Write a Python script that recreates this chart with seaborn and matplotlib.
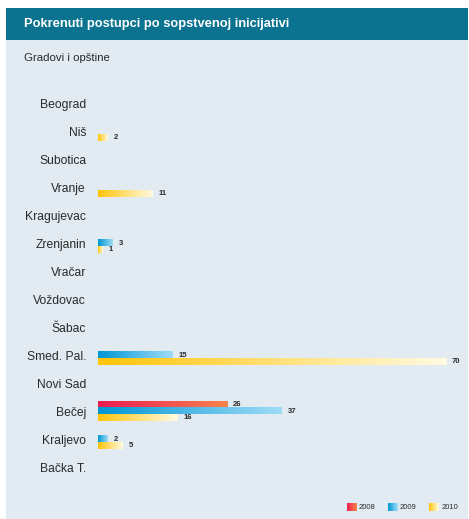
import numpy as np
import pandas as pd
import matplotlib
matplotlib.use("Agg")
import matplotlib.pyplot as plt
from matplotlib.colors import LinearSegmentedColormap, to_rgb
from matplotlib.patches import Rectangle, Patch
from matplotlib.legend_handler import HandlerBase
import seaborn as sns

# Cases started on own initiative, by city / municipality and year
cities = ["Beograd", "Niš", "Subotica", "Vranje", "Kragujevac", "Zrenjanin",
          "Vračar", "Voždovac", "Šabac", "Smed. Pal.", "Novi Sad", "Bečej",
          "Kraljevo", "Bačka T."]
years = ["2008", "2009", "2010"]
cases_2008 = [None, None, None, None, None, None, None, None, None, None, None, 26, None, None]
cases_2009 = [None, None, None, None, None, 3, None, None, None, 15, None, 37, 2, None]
cases_2010 = [None, 2, None, 11, None, 1, None, None, None, 70, None, 16, 5, None]

title = "Pokrenuti postupci po sopstvenoj inicijativi"
subtitle = "Gradovi i opštine"

# gradient end points per year (left -> right)
gradients = {
    "2008": ("#ec1a52", "#f6834a"),
    "2009": ("#0096d6", "#9edcf6"),
    "2010": ("#ffc408", "#fffbe2"),
}

rows = []
for year, vals in zip(years, [cases_2008, cases_2009, cases_2010]):
    for city, v in zip(cities, vals):
        if v is not None:
            rows.append({"city": city, "year": year, "cases": v})
df = pd.DataFrame(rows)

sns.set_style("white")
plt.rcParams["font.family"] = ["Liberation Sans", "DejaVu Sans"]
text_color = "#2a2a2a"

W, H = 469, 519
fig = plt.figure(figsize=(W / 100, H / 100), dpi=100)

# panel background and header band
fig.patches.append(Rectangle((6 / W, 0), 462 / W, 1 - 8 / H,
                             transform=fig.transFigure, facecolor="#e2ebf1",
                             edgecolor="none", zorder=-2))
fig.patches.append(Rectangle((6 / W, 1 - 40 / H), 462 / W, 32 / H,
                             transform=fig.transFigure, facecolor="#0b7290",
                             edgecolor="none", zorder=-1))
fig.text(24 / W, 1 - 24 / H, title, color="white", fontsize=9.3,
         fontweight="bold", va="center", ha="left")
fig.text(24 / W, 1 - 58 / H, subtitle, color=text_color, fontsize=8.2,
         va="center", ha="left")

ax = fig.add_axes([98 / W, 1 - 481 / H, 358 / W, 392 / H])
ax.set_facecolor("none")

palette = {y: gradients[y][0] for y in years}
sns.barplot(data=df, y="city", x="cases", hue="year", order=cities,
            hue_order=years, orient="h", width=0.72, dodge=True,
            palette=palette, saturation=1, errorbar=None, legend=False, ax=ax)

# replace the flat fills with left-to-right gradients
ramp = np.linspace(0, 1, 256)[None, :]
for container, year in zip(ax.containers, years):
    cmap = LinearSegmentedColormap.from_list(f"g{year}", gradients[year])
    for bar in container:
        x0, y0 = bar.get_xy()
        w, h = bar.get_width(), bar.get_height()
        if not np.isfinite(w) or w == 0:
            continue
        ax.imshow(ramp, cmap=cmap, extent=(x0, x0 + w, y0, y0 + h),
                  aspect="auto", interpolation="bilinear", zorder=2)
        bar.set_facecolor("none")
        bar.set_edgecolor("none")
    ax.bar_label(container, fmt="%d", padding=4, fontsize=5.5,
                 fontweight="bold", color=text_color)

ax.set_xlim(0, 72)
ax.set_ylim(len(cities) - 0.5, -0.5)
ax.set_xlabel("")
ax.set_ylabel("")
ax.set_xticks([])
ax.tick_params(axis="y", length=0, pad=8.6, labelsize=8.7, labelcolor=text_color)
for s in ax.spines.values():
    s.set_visible(False)


class GradientSwatch(HandlerBase):
    def __init__(self, start, end, steps=24):
        super().__init__()
        self.start = np.array(to_rgb(start))
        self.end = np.array(to_rgb(end))
        self.steps = steps

    def create_artists(self, legend, orig_handle, xdescent, ydescent,
                       width, height, fontsize, trans):
        arts = []
        for i in range(self.steps):
            t = i / (self.steps - 1)
            arts.append(Rectangle((-xdescent + width * i / self.steps, -ydescent),
                                  width / self.steps * 1.08, height,
                                  facecolor=self.start + (self.end - self.start) * t,
                                  edgecolor="none", linewidth=0, transform=trans))
        return arts


handles = [Patch(label=y) for y in years]
handler_map = {h: GradientSwatch(*gradients[h.get_label()]) for h in handles}
fig.legend(handles=handles, labels=years, handler_map=handler_map,
           loc="center right", bbox_to_anchor=(458 / W, 1 - 507 / H),
           ncol=3, frameon=False, fontsize=5.5, handlelength=1.3,
           handleheight=1.4, handletextpad=0.3, columnspacing=1.6,
           borderpad=0, borderaxespad=0, labelcolor=text_color)

fig.savefig("out.png", dpi=100)
